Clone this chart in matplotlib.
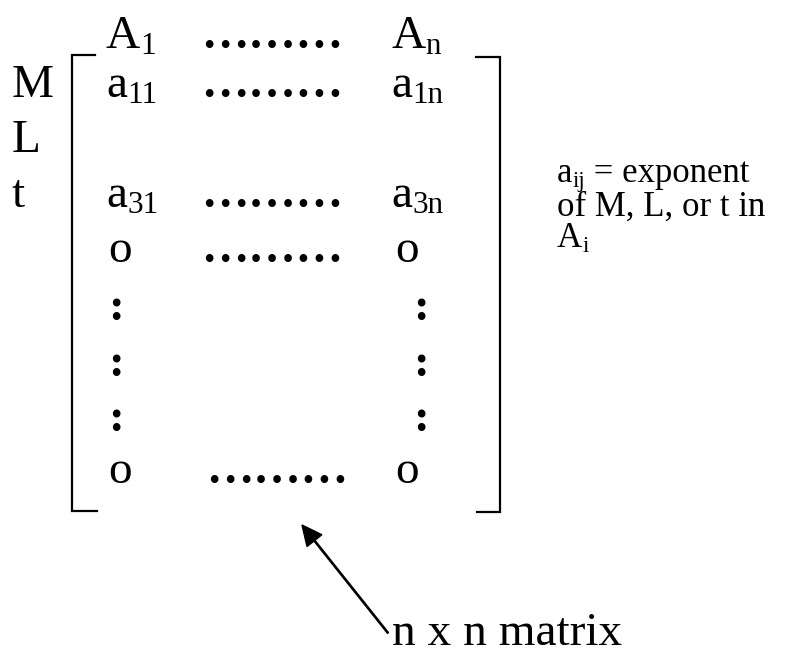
import matplotlib
matplotlib.use('Agg')
import matplotlib.pyplot as plt

plt.rcParams['font.family'] = ['Liberation Serif', 'DejaVu Serif']

# content of the diagram: (main text, subscript)
col_heads = [('A', '1'), ('A', 'n')]
row_names = ['M', 'L', 't']
left_cells = [('a', '11'), None, ('a', '31'), ('o', ''), (':', ''), (':', ''), (':', ''), ('o', '')]
right_cells = [('a', '1n'), None, ('a', '3n'), ('o', ''), (':', ''), (':', ''), (':', ''), ('o', '')]
dotted = [True, False, True, True, False, False, False, True]
dots = '\u2026\u2026\u2026'
note = [[('a', False), ('ij', True), (' = exponent', False)],
        [('of M, L, or t in', False)],
        [('A', False), ('i', True)]]
arrow_text = 'n x n matrix'

W, H = 795, 656
fig = plt.figure(figsize=(W / 100, H / 100), dpi=100)
ax = fig.add_axes([0, 0, 1, 1])
ax.set_xlim(0, W)
ax.set_ylim(H, 0)
ax.axis('off')
renderer = fig.canvas.get_renderer()

big = 34
small = 25


def put(x, y, pieces, size, weight='normal', va='baseline'):
    # write text pieces one after the other, subscripts smaller and lower
    for txt, sub in pieces:
        fs = size * 0.66 if sub else size
        dy = size * 0.13 * 100 / 72 if sub else 0
        t = ax.text(x, y + dy, txt, fontsize=fs, ha='left', va=va,
                    color='black', fontweight=weight)
        x += t.get_window_extent(renderer).width


# column headers
put(106, 48, [(col_heads[0][0], False), (col_heads[0][1], True)], big)
put(391, 48, [(col_heads[1][0], False), (col_heads[1][1], True)], big)
put(201, 48, [(dots, False)], big, weight='bold')

# row names
row_y = [97 + 55.1 * i for i in range(8)]
for i, name in enumerate(row_names):
    put(12, row_y[i], [(name, False)], big)

# matrix entries
for i in range(8):
    y = row_y[i]
    for cell, x0, side in ((left_cells[i], 106, 0), (right_cells[i], 391, 1)):
        if cell is None:
            continue
        if cell[0] == 'o':
            put(x0 + 2 + 2 * side, y, [(cell[0], False)], big)
        elif cell[0] == ':':
            put(x0 + 2 + 20 * side, y + 3, [(cell[0], False)], big, weight='bold')
        else:
            put(x0, y, [(cell[0], False), (cell[1], True)], big)
    if dotted[i]:
        dx = 206 if i == 7 else 201
        put(dx, y, [(dots, False)], big, weight='bold')

# brackets
ax.plot([95, 72, 72, 97], [55, 55, 511, 511], color='black', lw=1.6, solid_joinstyle='miter')
ax.plot([476, 500, 500, 477], [57, 57, 512, 512], color='black', lw=1.6, solid_joinstyle='miter')

# side note
note_y = [182, 216, 247]
for yy, line in zip(note_y, note):
    put(557, yy, line, small)

# arrow and its label
ax.arrow(388, 633, 302 - 388, 525 - 633, width=1.3, head_width=19, head_length=20,
         length_includes_head=True, color='black')
put(392, 655, [(arrow_text, False)], big, va='bottom')

fig.savefig('out.png', dpi=100)
